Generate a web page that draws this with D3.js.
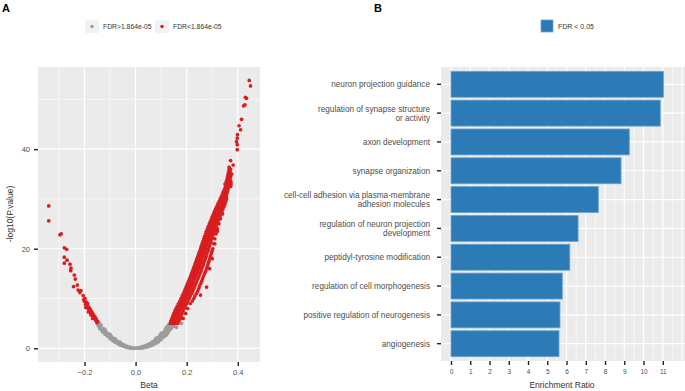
<!DOCTYPE html>
<html>
<head>
<meta charset="utf-8">
<script src="https://cdn.jsdelivr.net/npm/d3@7"></script>
<style>
  body { margin: 0; background: #fff; }
  svg { font-family: "Liberation Sans", Arial, sans-serif; }
</style>
</head>
<body>
<div id="chart"></div>
<script>
// ---- panel A data: [Beta, -log10(P)] ----
const grayPts = [
  [-0.150,5.0],[-0.148,4.7],[-0.146,4.9],[-0.144,4.5],[-0.142,4.2],[-0.140,4.5],[-0.138,4.0],[-0.136,4.2],
  [-0.133,3.8],[-0.130,3.6],[-0.128,3.9],[-0.125,3.4],[-0.122,3.2],[-0.120,3.5],[-0.117,3.0],[-0.114,2.8],
  [-0.111,3.0],[-0.108,2.6],[-0.105,2.4],[-0.102,2.6],[-0.099,2.2],[-0.096,2.0],[-0.093,2.2],[-0.090,1.8],
  [-0.087,1.7],[-0.084,1.8],[-0.081,1.5],[-0.078,1.35],[-0.075,1.45],[-0.072,1.2],[-0.069,1.05],[-0.066,1.1],
  [-0.063,0.9],[-0.060,0.8],[-0.057,0.85],[-0.054,0.65],[-0.051,0.6],[-0.048,0.5],[-0.045,0.45],[-0.042,0.4],
  [-0.039,0.35],[-0.036,0.28],[-0.033,0.24],[-0.030,0.2],[-0.026,0.15],[-0.022,0.11],[-0.018,0.08],[-0.014,0.05],
  [-0.010,0.03],[-0.006,0.02],[-0.003,0.01],[0,0],
  [-0.12,3.8],[-0.10,2.8],[-0.08,1.9],[-0.06,1.2],[-0.14,4.9],
  [-0.145,5.3],[-0.135,4.6],[-0.125,3.9],[-0.115,3.3],[-0.105,2.9],[-0.095,2.4],[-0.085,2.0],[-0.075,1.6],
  [-0.065,1.3],[-0.055,0.95],[-0.045,0.7],[-0.035,0.45],[-0.025,0.3],[-0.015,0.15],[-0.140,3.9],[-0.130,3.3],
  [-0.120,2.8],[-0.110,2.4],[-0.100,1.9],[-0.090,1.5],[-0.080,1.2],[-0.070,0.9],[-0.060,0.6],[-0.050,0.4],
  [-0.040,0.25],[-0.030,0.1],[-0.020,0.0],[-0.010,-0.05],
  [0.003,0.01],[0.006,0.02],[0.010,0.03],[0.014,0.05],[0.018,0.08],[0.022,0.12],[0.026,0.17],[0.030,0.23],
  [0.034,0.3],[0.038,0.37],[0.042,0.45],[0.046,0.54],[0.050,0.64],[0.054,0.75],[0.058,0.86],[0.062,0.98],
  [0.066,1.1],[0.070,1.25],[0.074,1.4],[0.078,1.55],[0.082,1.72],[0.086,1.9],[0.090,2.07],[0.094,2.25],
  [0.098,2.45],[0.102,2.65],[0.106,2.86],[0.110,3.08],[0.114,3.3],[0.118,3.55],[0.122,3.8],[0.126,4.05],
  [0.130,4.3],[0.134,4.6],[0.138,4.85],
  [0.05,0.3],[0.07,0.7],[0.08,1.0],[0.09,1.3],[0.10,1.7],[0.11,2.2],[0.12,2.6],[0.125,3.0],[0.13,3.4],
  [0.14,4.0],[0.15,4.4],[0.16,4.2],[0.18,5.0],[0.06,0.5],[0.04,0.2],[0.08,2.0],[0.10,3.0],[0.12,4.2],[0.13,4.8],
  [0.015,0.2],[0.025,0.35],[0.035,0.5],[0.045,0.7],[0.055,0.95],[0.065,1.3],[0.075,1.65],[0.085,2.1],
  [0.095,2.6],[0.105,3.1],[0.115,3.7],[0.125,4.4],[0.135,5.0],[0.02,0.0],[0.03,0.05],[0.045,0.25],
  [0.055,0.45],[0.065,0.7],[0.075,1.0],[0.085,1.4],[0.095,1.8],[0.105,2.3],[0.115,2.7],[0.135,3.8],[0.145,4.6]
];

const redLeft = [
  [-0.340,28.6],[-0.340,25.6],[-0.296,22.8],[-0.291,23.0],[-0.279,20.2],[-0.270,19.9],[-0.279,18.3],[-0.279,17.1],
  [-0.268,17.7],[-0.257,16.9],[-0.253,16.1],[-0.254,15.6],[-0.240,14.7],[-0.236,13.9],[-0.243,12.4],[-0.228,12.7],
  [-0.225,11.7],[-0.218,11.2],[-0.214,11.6],
  [-0.205,10.6],[-0.203,9.8],[-0.200,9.4],[-0.198,10.0],[-0.196,8.8],[-0.193,9.3],[-0.190,8.6],[-0.188,9.0],
  [-0.186,8.0],[-0.183,8.3],[-0.180,7.6],[-0.178,7.9],[-0.176,7.2],[-0.174,7.5],[-0.171,6.8],[-0.169,7.1],
  [-0.166,6.4],[-0.164,6.7],[-0.161,6.0],[-0.159,6.3],[-0.156,5.6],[-0.154,5.9],[-0.151,5.2],[-0.149,5.4],
  [-0.195,8.2],[-0.185,7.3],[-0.175,6.7],[-0.168,6.0]
];

// rows of the dense right band: [-log10(P), beta, beta, ...]
const redRightRows = [
  [5.0,0.136,0.145,0.155,0.165],[5.5,0.138,0.148,0.158,0.170],[6.0,0.142,0.152,0.162,0.175,0.186],
  [6.5,0.146,0.156,0.166,0.178],[7.0,0.150,0.160,0.170,0.182,0.196],[7.5,0.154,0.164,0.174,0.186],
  [8.0,0.158,0.168,0.178,0.190,0.204],[8.5,0.163,0.173,0.183,0.195],[9.0,0.168,0.178,0.188,0.200,0.214],
  [9.5,0.173,0.183,0.193,0.205,0.222],[10.0,0.178,0.188,0.198,0.210,0.228],[10.5,0.182,0.192,0.202,0.214,0.232],
  [11.0,0.187,0.197,0.207,0.220,0.238],[11.5,0.191,0.201,0.211,0.224,0.243],[12.0,0.195,0.205,0.215,0.228,0.247],
  [12.5,0.199,0.209,0.219,0.232,0.250],[13.0,0.203,0.213,0.223,0.236,0.255],[13.5,0.207,0.217,0.227,0.240,0.259],
  [14.0,0.211,0.221,0.231,0.244,0.262],[14.5,0.215,0.225,0.235,0.248,0.266],[15.0,0.219,0.229,0.239,0.252,0.270],
  [15.5,0.223,0.233,0.243,0.256,0.274],[16.0,0.226,0.236,0.246,0.259,0.278],[16.5,0.230,0.240,0.250,0.263,0.281],
  [17.0,0.233,0.243,0.253,0.266,0.284],[17.5,0.237,0.247,0.257,0.270,0.287],[18.0,0.240,0.250,0.260,0.273,0.290],
  [18.5,0.244,0.254,0.264,0.276,0.293],[19.0,0.247,0.257,0.267,0.279,0.296],[19.5,0.251,0.261,0.271,0.283,0.299],
  [20.0,0.254,0.264,0.274,0.286,0.302],[20.5,0.257,0.267,0.277,0.289],[21.0,0.260,0.270,0.280,0.292,0.306],
  [21.5,0.264,0.274,0.284,0.295],[22.0,0.267,0.277,0.287,0.298,0.310],[22.5,0.270,0.280,0.290,0.301],
  [23.0,0.274,0.284,0.294,0.305,0.315],[23.5,0.277,0.287,0.297,0.308],[24.0,0.281,0.291,0.301,0.311,0.320],
  [24.5,0.285,0.295,0.305,0.315],[25.0,0.289,0.299,0.309,0.319,0.326],[25.5,0.293,0.303,0.313,0.322],
  [26.0,0.297,0.307,0.317,0.326,0.332],[26.5,0.301,0.311,0.321,0.330],[27.0,0.305,0.315,0.325,0.334],
  [27.5,0.309,0.319,0.329,0.338],[28.0,0.313,0.323,0.333,0.342],[28.5,0.318,0.328,0.338,0.346],
  [29.0,0.322,0.332,0.342,0.350],[29.5,0.327,0.337,0.347,0.353],[30.0,0.331,0.341,0.350,0.356],
  [30.5,0.336,0.345,0.354],[31.0,0.340,0.349,0.357],[31.5,0.344,0.353,0.360],[32.0,0.348,0.356,0.362],
  [32.5,0.352,0.359,0.366,0.372],[33.0,0.350,0.356,0.362,0.368,0.374],[33.5,0.355,0.361,0.367,0.373],
  [34.0,0.358,0.364,0.370],[34.5,0.360,0.366,0.372],[35.0,0.362,0.368,0.373],[35.5,0.364,0.370],[36.0,0.366,0.372]
];

const redRightSparse = [
  [0.372,37.7],[0.382,36.8],[0.366,36.4],[0.376,35.0],[0.398,39.9],[0.398,40.9],[0.395,41.5],[0.398,42.2],
  [0.399,42.9],[0.411,43.9],[0.405,44.7],[0.415,46.0],[0.423,48.7],[0.428,48.9],[0.434,50.2],[0.430,50.4],
  [0.450,52.7],[0.445,53.8],
  [0.278,12.3],[0.254,10.7],[0.290,16.0],[0.300,18.0],[0.310,21.0],[0.320,23.5],[0.340,27.0],[0.355,30.5]
];

const redPts = redLeft
  .concat(redRightRows.flatMap(r => r.slice(1).map(b => [b, r[0]])))
  .concat(redRightSparse);

const aTicksX = [-0.2, 0.0, 0.2, 0.4];
const aTicksY = [0, 20, 40];
const aLegend = ["FDR>1.864e-05", "FDR<1.864e-05"];

// ---- panel B data ----
const terms = [
  "neuron projection guidance",
  "regulation of synapse structure\nor activity",
  "axon development",
  "synapse organization",
  "cell-cell adhesion via plasma-membrane\nadhesion molecules",
  "regulation of neuron projection\ndevelopment",
  "peptidyl-tyrosine modification",
  "regulation of cell morphogenesis",
  "positive regulation of neurogenesis",
  "angiogenesis"
];
const ratios = [11.03, 10.87, 9.26, 8.83, 7.65, 6.60, 6.17, 5.78, 5.66, 5.61];
const bTicks = [0,1,2,3,4,5,6,7,8,9,10,11];

const W = 685, H = 391;
const grey = "#999e99", red = "#d91d1f", blue = "#2c7bb6";
const svg = d3.select("#chart").append("svg").attr("width", W).attr("height", H);

// ================= Panel A =================
const xA = d3.scaleLinear().domain([-0.382, 0.487]).range([38, 260]);
const yA = d3.scaleLinear().domain([-2.75, 56.5]).range([362, 67]);

svg.append("rect").attr("x", 38).attr("y", 67).attr("width", 222).attr("height", 295).attr("fill", "#ebebeb");

const gA = svg.append("g");
// minor grid
gA.selectAll(".mx").data([-0.3, -0.1, 0.1, 0.3]).join("line")
  .attr("x1", d => xA(d)).attr("x2", d => xA(d)).attr("y1", 67).attr("y2", 362)
  .attr("stroke", "#fff").attr("stroke-width", 0.6);
gA.selectAll(".my").data([10, 30, 50]).join("line")
  .attr("y1", d => yA(d)).attr("y2", d => yA(d)).attr("x1", 38).attr("x2", 260)
  .attr("stroke", "#fff").attr("stroke-width", 0.6);
// major grid
gA.selectAll(".Mx").data(aTicksX).join("line")
  .attr("x1", d => xA(d)).attr("x2", d => xA(d)).attr("y1", 67).attr("y2", 362)
  .attr("stroke", "#fff").attr("stroke-width", 1.2);
gA.selectAll(".My").data(aTicksY).join("line")
  .attr("y1", d => yA(d)).attr("y2", d => yA(d)).attr("x1", 38).attr("x2", 260)
  .attr("stroke", "#fff").attr("stroke-width", 1.2);

gA.append("g").selectAll("circle").data(grayPts).join("circle")
  .attr("cx", d => xA(d[0])).attr("cy", d => yA(d[1])).attr("r", 1.8).attr("fill", grey);
gA.append("g").selectAll("circle").data(redPts).join("circle")
  .attr("cx", d => xA(d[0])).attr("cy", d => yA(d[1])).attr("r", 1.85).attr("fill", red);

function styleAxis(g) {
  g.select(".domain").remove();
  g.selectAll(".tick line").attr("stroke", "#222").attr("stroke-width", 1.4);
  g.selectAll(".tick text").attr("fill", "#4d4d4d").style("font-size", "7.5px");
}

svg.append("g").attr("transform", "translate(0,362)")
  .call(d3.axisBottom(xA).tickValues(aTicksX).tickSize(4).tickPadding(4).tickFormat(d3.format(".1f")))
  .call(styleAxis);
svg.append("g").attr("transform", "translate(38,0)")
  .call(d3.axisLeft(yA).tickValues(aTicksY).tickSize(4).tickPadding(4))
  .call(styleAxis);

svg.append("text").attr("x", 149).attr("y", 388).attr("text-anchor", "middle")
  .attr("fill", "#333").style("font-size", "8.5px").text("Beta");
svg.append("text").attr("transform", "translate(13,214) rotate(-90)").attr("text-anchor", "middle")
  .attr("fill", "#333").style("font-size", "8.5px").text("-log10(P.value)");

// legend A
const legA = svg.append("g");
[[85, grey, aLegend[0]], [155, red, aLegend[1]]].forEach(([x, c, t]) => {
  legA.append("rect").attr("x", x).attr("y", 20).attr("width", 14).attr("height", 13).attr("fill", "#f2f2f2");
  legA.append("circle").attr("cx", x + 7).attr("cy", 26.5).attr("r", 1.7).attr("fill", c);
  legA.append("text").attr("x", x + 18).attr("y", 29).attr("fill", "#333").style("font-size", "6.8px").text(t);
});

svg.append("text").attr("x", 2).attr("y", 12).attr("font-weight", "bold").style("font-size", "11px").text("A");
svg.append("text").attr("x", 374).attr("y", 12).attr("font-weight", "bold").style("font-size", "11px").text("B");

// ================= Panel B =================
const xB = d3.scaleLinear().domain([-0.52, 12.05]).range([441, 683]);
const yB = d3.scaleBand().domain(terms).range([67, 361]).paddingInner(0.1).paddingOuter(0.15);

svg.append("rect").attr("x", 441).attr("y", 67).attr("width", 244).attr("height", 294).attr("fill", "#ebebeb");
const gB = svg.append("g");
gB.selectAll(".bmx").data(d3.range(0, 12.5, 0.5).filter(v => v % 1 !== 0)).join("line")
  .attr("x1", d => xB(d)).attr("x2", d => xB(d)).attr("y1", 67).attr("y2", 361)
  .attr("stroke", "#fff").attr("stroke-width", 0.6);
gB.selectAll(".bMx").data(d3.range(0, 13)).join("line")
  .attr("x1", d => xB(d)).attr("x2", d => xB(d)).attr("y1", 67).attr("y2", 361)
  .attr("stroke", "#fff").attr("stroke-width", 1.2);
gB.selectAll(".bMy").data(terms).join("line")
  .attr("y1", d => yB(d) + yB.bandwidth() / 2).attr("y2", d => yB(d) + yB.bandwidth() / 2)
  .attr("x1", 441).attr("x2", 685).attr("stroke", "#fff").attr("stroke-width", 1.2);

gB.selectAll("rect.bar").data(terms).join("rect").attr("class", "bar")
  .attr("x", xB(0)).attr("y", d => yB(d))
  .attr("width", (d, i) => xB(ratios[i]) - xB(0)).attr("height", yB.bandwidth())
  .attr("fill", blue).attr("stroke", "#6aa3d3").attr("stroke-width", 0.8);

svg.append("g").attr("transform", "translate(0,361)")
  .call(d3.axisBottom(xB).tickValues(bTicks).tickSize(4).tickPadding(4))
  .call(styleAxis)
  .call(g => g.selectAll(".tick text").style("font-size", "6.5px"));

const yAxB = svg.append("g").attr("transform", "translate(441,0)")
  .call(d3.axisLeft(yB).tickSize(4).tickPadding(4).tickFormat(""))
  .call(styleAxis);
yAxB.selectAll(".tick").each(function(d) {
  const lines = d.split("\n");
  const t = d3.select(this).append("text").attr("x", -11).attr("text-anchor", "end")
    .attr("fill", "#4d4d4d").style("font-size", "8.2px");
  lines.forEach((ln, i) => {
    t.append("tspan").attr("x", -11).attr("y", (i - (lines.length - 1) / 2) * 9 + 2.9).text(ln);
  });
});

svg.append("text").attr("x", 562).attr("y", 388).attr("text-anchor", "middle")
  .attr("fill", "#333").style("font-size", "8.5px").text("Enrichment Ratio");

// legend B
svg.append("rect").attr("x", 541).attr("y", 20).attr("width", 12).attr("height", 12)
  .attr("fill", blue).attr("stroke", "#6aa3d3").attr("stroke-width", 0.8);
svg.append("text").attr("x", 558).attr("y", 29).attr("fill", "#333").style("font-size", "7px").text("FDR < 0.05");
</script>
</body>
</html>
